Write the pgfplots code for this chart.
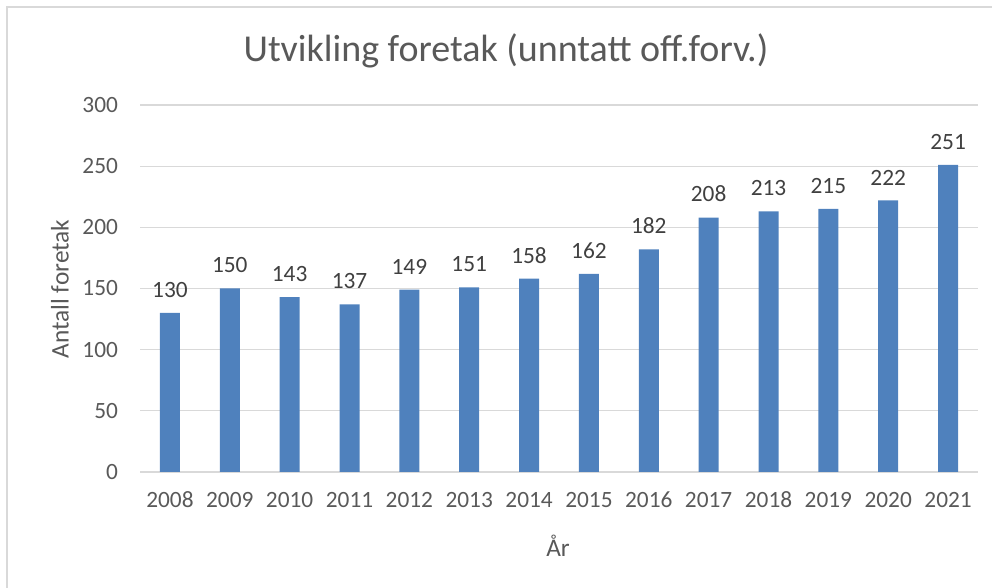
\documentclass[border=0pt]{standalone}
\usepackage{pgfplots}
\pgfplotsset{compat=1.18}
\usepackage{fontspec}
\setmainfont{Carlito}
\definecolor{barblue}{HTML}{4F81BD}
\definecolor{gridgray}{HTML}{D9D9D9}
\definecolor{txtgray}{HTML}{595959}
\definecolor{lblgray}{HTML}{404040}
\begin{document}
\begin{tikzpicture}[x=0.75pt,y=0.75pt]
\useasboundingbox (0,0) rectangle (992,588);
\draw[gridgray, line width=1.5pt] (7,0) -- (7,581) -- (992,581);
\begin{axis}[
  at={(105pt,87pt)}, anchor=south west,
  scale only axis, width=628.5pt, height=275.25pt,
  xmin=-0.5, xmax=13.5, ymin=0, ymax=300,
  ytick={0,50,...,300},
  xtick={0,...,13},
  xticklabels={2008,2009,2010,2011,2012,2013,2014,2015,2016,2017,2018,2019,2020,2021},
  axis line style={draw=none},
  ymajorgrids, grid style={gridgray, line width=0.9pt},
  major tick length=0pt,
  tick label style={font=\fontsize{17.5}{20}\selectfont, text=txtgray},
  /pgf/number format/assume math mode=true,
  xticklabel style={anchor=center, yshift=-21pt},
  yticklabel style={anchor=east, xshift=-13pt},
  clip=false,
]
\draw[gridgray, line width=1.5pt] (axis cs:-0.5,0) -- (axis cs:13.5,0);
\addplot[ybar, bar width=15pt, fill=barblue, draw=none,
  nodes near coords, nodes near coords style={font=\fontsize{17.5}{20}\selectfont, text=lblgray, yshift=8pt},
  point meta=y]
coordinates {(0,130)(1,150)(2,143)(3,137)(4,149)(5,151)(6,158)(7,162)(8,182)(9,208)(10,213)(11,215)(12,222)(13,251)};
\end{axis}
\node[text=txtgray, font=\fontsize{28.5}{32}\selectfont] at (506,537) {Utvikling foretak (unntatt off.forv.)};
\node[text=txtgray, font=\fontsize{19}{22}\selectfont, rotate=90] at (60,299) {Antall foretak};
\node[text=txtgray, font=\fontsize{19}{22}\selectfont] at (558,42) {År};
\end{tikzpicture}
\end{document}
